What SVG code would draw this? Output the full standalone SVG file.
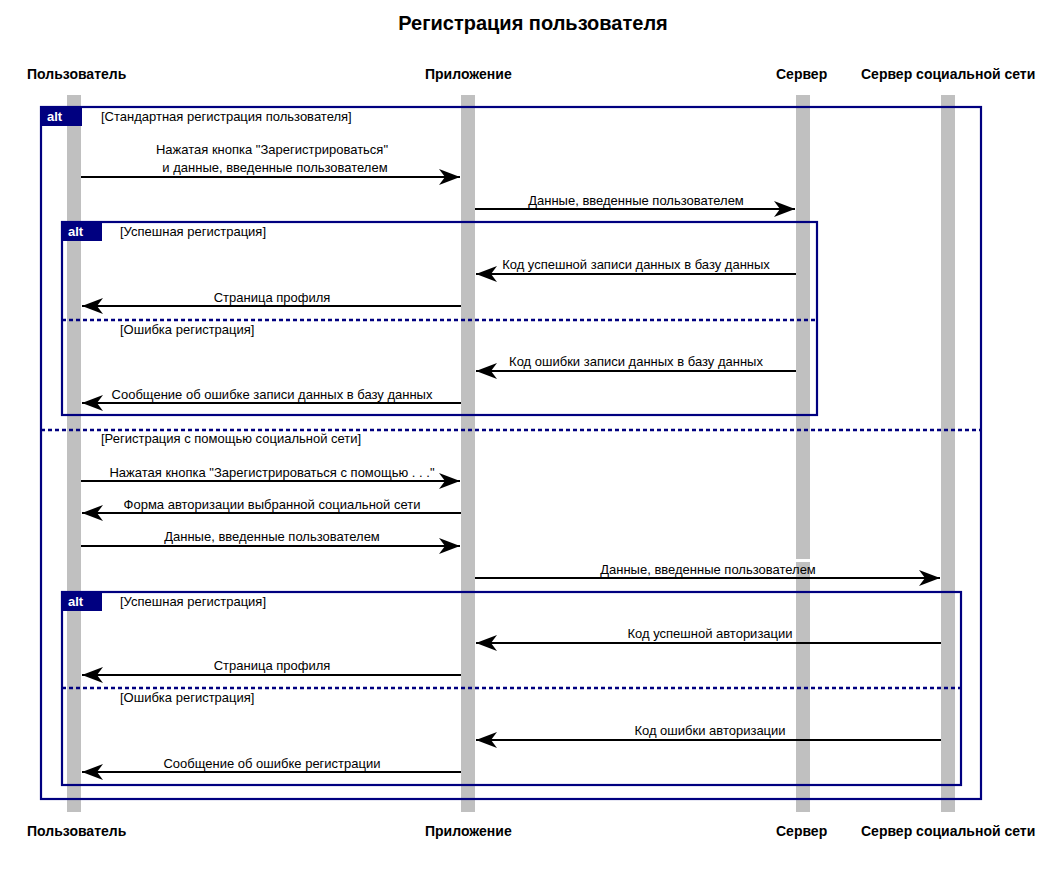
<svg xmlns="http://www.w3.org/2000/svg" width="1062" height="876" viewBox="0 0 1062 876">
<style>
.t{font-family:"Liberation Sans",Arial,sans-serif;fill:#000}
.title{font-size:20px;font-weight:bold}
.p{font-size:14px;font-weight:bold}
.m{font-size:13px}
.g{font-size:13px}
.ll{fill:#c0c0c0}
.fr{fill:none;stroke:#000080;stroke-width:2.2}
.sep{stroke:#000080;stroke-width:2.5;stroke-dasharray:4,3}
.tab{fill:#000080}
.tabt{font-family:"Liberation Sans",Arial,sans-serif;font-size:13px;font-weight:bold;fill:#fff}
.msg{stroke:#000;stroke-width:2;fill:none}
</style>
<defs>
<marker id="ah" viewBox="-22 -9 24 18" refX="0" refY="0" markerWidth="24" markerHeight="18" markerUnits="userSpaceOnUse" orient="auto">
<path d="M0,0 L-21,-8 L-15,0 L-21,8 Z" fill="#000"/>
</marker>
</defs>
<rect width="1062" height="876" fill="#fff"/>
<text class="t title" x="533" y="30" text-anchor="middle">Регистрация пользователя</text>

<g id="lifelines">
<rect class="ll" x="67" y="95" width="14" height="717"/>
<rect class="ll" x="461" y="95" width="14" height="717"/>
<rect class="ll" x="796" y="95" width="14" height="464"/>
<rect class="ll" x="796" y="562" width="14" height="250"/>
<rect class="ll" x="941" y="95" width="14" height="717"/>
</g>

<g id="p-user"><text class="t p" x="27" y="79">Пользователь</text><text class="t p" x="27" y="836">Пользователь</text></g>
<g id="p-app"><text class="t p" x="425" y="79">Приложение</text><text class="t p" x="425" y="836">Приложение</text></g>
<g id="p-server"><text class="t p" x="776" y="79">Сервер</text><text class="t p" x="776" y="836">Сервер</text></g>
<g id="p-social"><text class="t p" x="861" y="79">Сервер социальной сети</text><text class="t p" x="861" y="836">Сервер социальной сети</text></g>

<g id="alt-outer">
<rect class="fr" x="41" y="107" width="940" height="692"/>
<path class="tab" d="M41,107 H82 V126 H41 Z"/>
<text class="tabt" x="47" y="121">alt</text>
<text class="t g" x="101" y="121">[Стандартная регистрация пользователя]</text>
<line class="sep" x1="41" y1="430" x2="981" y2="430"/>
<text class="t g" x="101" y="443">[Регистрация с помощью социальной сети]</text>
</g>

<g id="alt-inner1">
<rect class="fr" x="62" y="222" width="755" height="193"/>
<path class="tab" d="M62,222 H102 V241 H62 Z"/>
<text class="tabt" x="68" y="236">alt</text>
<text class="t g" x="120" y="236">[Успешная регистрация]</text>
<line class="sep" x1="62" y1="320" x2="817" y2="320"/>
<text class="t g" x="120" y="334">[Ошибка регистрация]</text>
</g>

<g id="alt-inner2">
<rect class="fr" x="62" y="592" width="899" height="193"/>
<path class="tab" d="M62,592 H102 V611 H62 Z"/>
<text class="tabt" x="68" y="606">alt</text>
<text class="t g" x="120" y="606">[Успешная регистрация]</text>
<line class="sep" x1="62" y1="688" x2="961" y2="688"/>
<text class="t g" x="120" y="702">[Ошибка регистрация]</text>
</g>

<g id="connectors">
<line class="msg" x1="81" y1="177" x2="460" y2="177" marker-end="url(#ah)"/>
<line class="msg" x1="475" y1="209" x2="795" y2="209" marker-end="url(#ah)"/>
<line class="msg" x1="796" y1="274" x2="476" y2="274" marker-end="url(#ah)"/>
<line class="msg" x1="461" y1="306" x2="82" y2="306" marker-end="url(#ah)"/>
<line class="msg" x1="796" y1="371" x2="476" y2="371" marker-end="url(#ah)"/>
<line class="msg" x1="461" y1="403" x2="82" y2="403" marker-end="url(#ah)"/>
<line class="msg" x1="81" y1="481" x2="460" y2="481" marker-end="url(#ah)"/>
<line class="msg" x1="461" y1="513" x2="82" y2="513" marker-end="url(#ah)"/>
<line class="msg" x1="81" y1="546" x2="460" y2="546" marker-end="url(#ah)"/>
<line class="msg" x1="475" y1="578" x2="940" y2="578" marker-end="url(#ah)"/>
<line class="msg" x1="941" y1="643" x2="476" y2="643" marker-end="url(#ah)"/>
<line class="msg" x1="461" y1="675" x2="82" y2="675" marker-end="url(#ah)"/>
<line class="msg" x1="941" y1="740" x2="476" y2="740" marker-end="url(#ah)"/>
<line class="msg" x1="461" y1="772" x2="82" y2="772" marker-end="url(#ah)"/>
</g>

<g id="labels">
<text class="t m" x="272" y="154" text-anchor="middle">Нажатая кнопка "Зарегистрироваться"</text>
<text class="t m" x="275" y="172" text-anchor="middle">и данные, введенные пользователем</text>
<text class="t m" x="636" y="205" text-anchor="middle">Данные, введенные пользователем</text>
<text class="t m" x="636" y="269" text-anchor="middle">Код успешной записи данных в базу данных</text>
<text class="t m" x="272" y="302" text-anchor="middle">Страница профиля</text>
<text class="t m" x="636" y="366" text-anchor="middle">Код ошибки записи данных в базу данных</text>
<text class="t m" x="272" y="399" text-anchor="middle">Сообщение об ошибке записи данных в базу данных</text>
<text class="t m" x="272" y="477" text-anchor="middle">Нажатая кнопка "Зарегистрироваться с помощью . . ."</text>
<text class="t m" x="272" y="509" text-anchor="middle">Форма авторизации выбранной социальной сети</text>
<text class="t m" x="272" y="541" text-anchor="middle">Данные, введенные пользователем</text>
<text class="t m" x="708" y="574" text-anchor="middle">Данные, введенные пользователем</text>
<text class="t m" x="710" y="638" text-anchor="middle">Код успешной авторизации</text>
<text class="t m" x="272" y="670" text-anchor="middle">Страница профиля</text>
<text class="t m" x="710" y="735" text-anchor="middle">Код ошибки авторизации</text>
<text class="t m" x="272" y="768" text-anchor="middle">Сообщение об ошибке регистрации</text>
</g>
</svg>
